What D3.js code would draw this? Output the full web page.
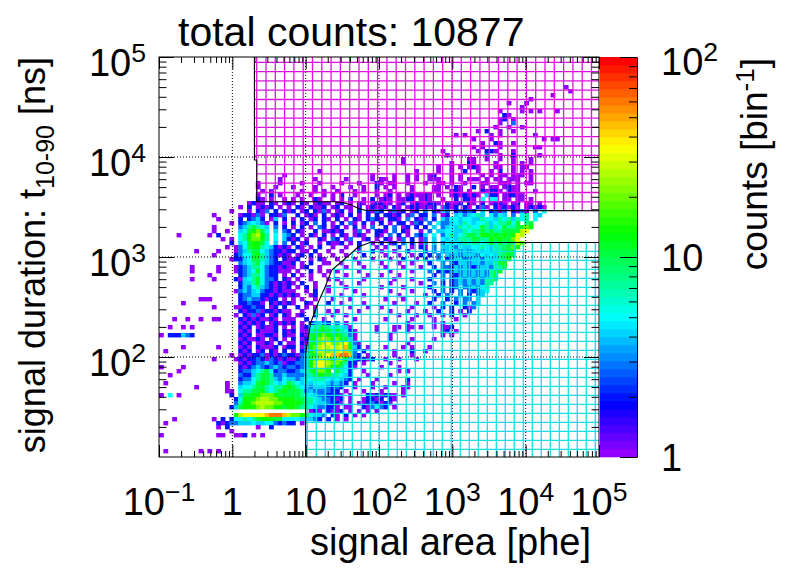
<!DOCTYPE html>
<html><head><meta charset="utf-8">
<script src="https://cdn.jsdelivr.net/npm/d3@7"></script>
<style>body{margin:0;background:#fff}svg{display:block}</style>
</head><body>
<svg id="c" width="796" height="572"></svg>
<script>
// ---------------- data ----------------
const titleText = "total counts: 10877";
const xDomain = [0.1, 1e5];
const yDomain = [10, 1e5];
const zDomain = [1, 100];
const nBinsX = 100, nBinsY = 100;
const xTickValues = [0.1, 1, 10, 100, 1e3, 1e4, 1e5];
const xTickLabels = [["10","\u22121"],["1",""],["10",""],["10","2"],["10","3"],["10","4"],["10","5"]];
const yTickValues = [1e2, 1e3, 1e4, 1e5];
const yTickLabels = [["10","2"],["10","3"],["10","4"],["10","5"]];
const zTickValues = [1, 10, 100];
const zTickLabels = [["1",""],["10",""],["10","2"]];
const gridX = [1, 10, 100, 1e3, 1e4];
const gridY = [1e2, 1e3, 1e4];
// cell codes -> counts per bin
const codeChars  = "123456789abcd";
const codeCounts = [1,2,3,4,5,7,10,14,20,27,35,45,60];
// 100 rows (top = highest duration bin), each split into 10-column blocks by "|"
const rows = [
"","","","","","","",
"|||||||||..1",
"|||||||||...1",
"||||||||.........1",
"||||||||....1",
"|||||||.........1|...1",
"||||||||..1",
"|||||||.......1|..1.1.1|1",
"|||||||........21",
"|||||||.......12|1",
"|||||||.......1|3",
"|||||||......1..1|..1",
"|||||||..1.2..1|1",
"||||||.......1.1|.....1.1|.....1",
"|||||||.1...1|.......1.1|1",
"|||||||...1..21|1",
"|||||||.1.1...1|.....11",
"||||||....1|..1.221|1",
"||||||.....1|....3..1|2.....1",
"|||||.....1||11..1..1|1...1",
"|||||.....1|......1|21....1|1.1.1",
"||||||...1..1.1|121...11|1.11",
"|||......1||........1|...1..1..2|..1..1.2|1.1.1",
"||........1||........1|...1..1.1|.12...1.1|...1.1.11|111.1",
"||.......1|.....1|..1.....1|11.1..1.1|.111..1.1|111.1.11.1|11..1",
"||..1....1|..1...1|.1...1...2|1.11..1|1..11.1..1|...11..111|.1.11",
"||..1...1|1....1...1|...1..1..2|.1.1...1|..11.1.21|.2.1.11.12|11",
"||...1.1|..1..1.1|1...1.1..1|..1....1|..11..121|1..21221.2|11...1",
"||..1..2.1|.1..1..1.1|.2..1....1|.12.1.1211|21.1..1212|121.422.12|211",
"||..21.1..1|1.1..21..1|.1.2..1.2|121.1122.1|21..1..2.2|21.5.55.11|.11.1",
"||1211.21.12|1.21.1211|12.1.21.12|211.12.121|1221.2112|21.2.1221|12.11.1",
"|........1|2.1212.1.1|.21.2112.1|2.11.2.121|12.21.1221|212.3212.2|1.231.2121|21.12121",
"|......1|1.213.2.21|2.12.2131|12.1.2.213|2.1312.12|3.2143.232|32.4.2313|2131.3.5",
"|..1.....12|2131.2213|.2.121.2.1|21.2.1.2.2|.2212.13.2|2.3.12.453|4564.5354|3.56.54",
"|...1....2|2342.14.2|1.2.12.21|2.1.21.232|1.221.3.21|3.2.435545|5446554656|4656.5",
"|......1.23|45431.2.1|2.12.3.2.1|.2.31.2.1|2.1.22.132|.3.5334546|5455645667|57.67",
"|..1.....34|67654.3.2|1.2.1.32.1|2.1.2.1.3|.2.3.12.2|2.4.345465|6557646576|67798",
"|..1..1..45|78975.4.32|.21..2.112|12..13.1.2|21.3.21..1|.3.4455446|5667676677|77ab",
"....1|.1.2....56|89a86.5.43|2.1.21.2.1|.21.121..2|1.3.2.1.32|4.5.356456|7768878787|8ba",
"|....1.1.56|89986.5.42|12.1..21.3|2.13..12.1|.21.13.2.1|3.4.545466|6776687877|9b",
"|......2.45|78875.4.3|2.12..1.21|12.1.2..1|2.12.3.2.1|3.4.354546|5665676767|7a9",
"|.....1.135|7886542121|.21.1.2..1|..1..2...1|.1..2..1.2|1.3.445354|4556546677|98",
"........1|...1...134|6775432212|2.11.2..1|.1...1..2|1..1..2|2.3.345434|3454546677|8",
"|..1....235|5786432121|.12.2.1..1|..1...2|.1..1..1.2|.2.3.43434|4435454677|7",
"|......1224|5776432.21|12..1.21|1...1...1|..1..2..1|2..3.23443|3443544678",
"|........34|5675432211|2.1.2..11|.1...1|1...1..1|.2..3.3244|344344678",
".......1|...1...123|4665322121|1.12..1|..1...1|.1...1...1|..2.332434|323443667",
".......1|...1...123|4575322111|.1..2.1.1|1....1|..1....1|.3.2323434|34343677",
"|.1......23|4665322.1|2.1.1..1|..1....1|1...1|..2.3.3234|3434367",
".......1|..1....214|5675332.21|.1..1...1|1.....1|...1...1|.2..3.2343|4343667",
"|........24|4675321212|1.2..1|.1...1|..1......1|..3.2.2343|434366",
"|........24|3564321212|.1.2.1..1|..1|1....1|.2..3.23.3|34356",
"|.......134|3453221211|1..1.2..1|....1|..1....1|..2.3.2.3|32345",
"|........23|3442212121|21..12|.1....1|....1|1..2.3..3|2.34",
".........1|11......23|4332122.1|1.1..1...1|...1|.1...1|..2..2.3.3|3.4",
".....1|........22|3221.21212|1..21...2|.1....1|...1....1|.2..3..2.3|.34",
"|..1....112|2322.12.2|.2.1.1|...1...1|1......1|..1.2.2..2|13",
"|........21|2231221211|..1..1..1|1....1|..1...1|1..2..2.1|2",
"|.......1.2|1312.12.21|.12..2...1|..1|....1...1|.1..1.2..1",
"...1..1..1|..11....21|2121121.11|1..2...1|....1|.1.....1|..1....1",
"|........12|1212.12121|2.1.23432|3.1|......1|..1.1",
"..1..1.1|........21|2.12112.1|1.12566765|6541.....1|...11.11.1|..1.112",
"|........12|1.21112.21|2.11677876|76521....1|...1..1|....12.1",
"1.222432|........21|2.11221.21|1.21788987|87631|..1|....1.1",
"|........12|1121.12.1|2.12789a98|98741|..1....1|..1",
"|........21|2.1121.2.1|1.21789ab9|9ab731|......1",
".....1|...1....12|1.21112.12|2.1389abab|abc842.1|.1...1.1|.1",
".1|........21|2.12.21.2|1.2389aa9a|abc93.2|...1...2|1",
"|......1.12|1223121232|2134789abc|cddc32.1|...1...1",
"|..1....121|2232132121|123489aa98|9a8432212|.1..1...1",
"|........12|1233432312|23348abba9|98622.1|..1",
"1....1|........21|2343234323|32348abb98|87521|1...1",
"....1|........23|3456752332|234578998|7652..1|....1.1",
"..1|........32|2467763343|3334678876|6542...1|..1",
"|........23|3567764354|4345566654|5432.1...1|......2",
".1|.....1..34|4578765457|6545455543|432.1...1|...1..1",
"........1|.....1..45|5677656678|7654344432|32..1...1|.1...11",
"|.....11.56|6778656787|7763433332|2.1...1|1....1",
"1.5.1|......2.47|7889998777|7765543322|21.1...212|1211.1",
"|.......258|889aa99888|8776654332|12.1..1221|2.21",
"|.......368|89aaaa9988|8876654432|21.1.11232|121",
"|......2478|889a998878|8766543322|1.11..2135|32.1",
"|||....121.21|12.1.1.1.1",
"|.......8ab|bbbbcdddca|99885443.2|1.2.1.1",
"...1|..1.2.2556|5678887755|5544432.2|1.1",
".1|...2123344|4544553232|2.1",
"|...1.2|..1..2",
"|......1",
"1|...11..112|.1.1",
"","","",
".1.......1|.1.1",
""
];
// selection cut boundaries [signal area (phe), duration (ns)]
const magentaCut = [[2.0,1e5],[2.0,9333],[2.15,9333],[2.15,3573],[25.1,3573],[33.0,3490],[41.5,3310],[53.0,3050],[66.0,2920],[1e5,2904],[1e5,1e5]];
const cyanCut = [[10,10],[10,109.6],[11.7,219],[14.7,347],[18.4,501],[22.7,741],[29.4,871],[42.4,1096],[51.8,1259],[75.4,1396],[1e5,1396],[1e5,10]];

// ---------------- drawing ----------------
const FONT = "'Liberation Sans', Arial, Helvetica, sans-serif";
const L = 159, R = 599, T = 57, B = 457;
const svg = d3.select("#c").style("font-family", FONT);
const x = d3.scaleLog().domain(xDomain).range([L, R]);
const y = d3.scaleLog().domain(yDomain).range([B, T]);
const zs = d3.scaleLog().domain(zDomain).range([B, T]);
const nColors = 50;
const palette = d3.range(nColors).map(k => d3.hsl(280 - (k + 1) * 280 / nColors, 1, 0.5).formatHex());
const colorOf = c => {
  let k = Math.floor(Math.log10(c / zDomain[0]) / Math.log10(zDomain[1] / zDomain[0]) * nColors);
  return palette[Math.max(0, Math.min(nColors - 1, k))];
};
const lx0 = Math.log10(xDomain[0]), lx1 = Math.log10(xDomain[1]);
const ly0 = Math.log10(yDomain[0]), ly1 = Math.log10(yDomain[1]);
const xEdges = d3.range(nBinsX + 1).map(i => Math.pow(10, lx0 + i * (lx1 - lx0) / nBinsX));
const yEdges = d3.range(nBinsY + 1).map(j => Math.pow(10, ly0 + j * (ly1 - ly0) / nBinsY));

const cells = [];
rows.forEach((row, r) => {
  const s = (row.split("|").map(b => (b + "..........").slice(0, 10)).join("") + ".".repeat(100)).slice(0, nBinsX);
  for (let i = 0; i < nBinsX; i++) {
    const k = codeChars.indexOf(s[i]);
    if (k >= 0) cells.push({ i, j: nBinsY - 1 - r, count: codeCounts[k] });
  }
});

svg.append("rect").attr("width", 796).attr("height", 572).attr("fill", "#fff");

// histogram cells
svg.append("g").selectAll("rect").data(cells).join("rect")
  .attr("x", d => x(xEdges[d.i]))
  .attr("y", d => y(yEdges[d.j + 1]))
  .attr("width", d => x(xEdges[d.i + 1]) - x(xEdges[d.i]) + 0.4)
  .attr("height", d => y(yEdges[d.j]) - y(yEdges[d.j + 1]) + 0.4)
  .attr("fill", d => colorOf(d.count));

// dotted grid
const grid = svg.append("g").attr("stroke", "#000").attr("stroke-width", 1).attr("stroke-dasharray", "1,2");
gridX.forEach(v => grid.append("line").attr("x1", x(v)).attr("x2", x(v)).attr("y1", T).attr("y2", B));
gridY.forEach(v => grid.append("line").attr("x1", L).attr("x2", R).attr("y1", y(v)).attr("y2", y(v)));

// hatched cut regions
const line = d3.line().x(d => x(d[0])).y(d => y(d[1]));
const defs = svg.append("defs");
defs.append("clipPath").attr("id", "clipM").append("path").attr("d", line(magentaCut) + "Z");
defs.append("clipPath").attr("id", "clipC").append("path").attr("d", line(cyanCut) + "Z");
function hatch(clipId, color, x0, y0, step) {
  const g = svg.append("g").attr("clip-path", `url(#${clipId})`).attr("stroke", color).attr("stroke-width", 1.3);
  for (let xx = x0 - Math.ceil((x0 - L) / step) * step; xx <= R; xx += step)
    g.append("line").attr("x1", xx).attr("x2", xx).attr("y1", T).attr("y2", B);
  for (let yy = y0 - Math.ceil((y0 - T) / step) * step; yy <= B; yy += step)
    g.append("line").attr("x1", L).attr("x2", R).attr("y1", yy).attr("y2", yy);
}
hatch("clipM", "#e010e0", 256.7, 62.3, 9.3);
hatch("clipC", "#10e0ea", 307.3, 332.3, 9.0);

// cut outlines
svg.append("path").attr("d", line(magentaCut.slice(0, 10))).attr("fill", "none").attr("stroke", "#000").attr("stroke-width", 1.1);
svg.append("path").attr("d", line(cyanCut.slice(0, 11))).attr("fill", "none").attr("stroke", "#000").attr("stroke-width", 1.1);

// frame
svg.append("rect").attr("x", L).attr("y", T).attr("width", R - L).attr("height", B - T)
  .attr("fill", "none").attr("stroke", "#000").attr("stroke-width", 1);

// ticks
const minorOf = (lo, hi) => { const a = []; for (let d = lo; d < hi * 0.999; d *= 10) for (let k = 2; k <= 9; k++) a.push(d * k); return a; };
const xMinor = minorOf(xDomain[0], xDomain[1]);
const yMinor = minorOf(yDomain[0], yDomain[1]);
const zMinor = minorOf(zDomain[0], zDomain[1]);
function tickAxis(axis, tx, ty) {
  svg.append("g").attr("transform", `translate(${tx},${ty})`).call(axis)
    .call(g => g.select(".domain").remove())
    .call(g => g.selectAll("line").attr("stroke", "#000").attr("stroke-width", 1));
}
tickAxis(d3.axisBottom(x).tickValues(xTickValues).tickSize(-12).tickFormat(""), 0, B);
tickAxis(d3.axisBottom(x).tickValues(xMinor).tickSize(-6).tickFormat(""), 0, B);
tickAxis(d3.axisTop(x).tickValues(xTickValues).tickSize(-12).tickFormat(""), 0, T);
tickAxis(d3.axisTop(x).tickValues(xMinor).tickSize(-6).tickFormat(""), 0, T);
tickAxis(d3.axisLeft(y).tickValues(yTickValues).tickSize(-15).tickFormat(""), L, 0);
tickAxis(d3.axisLeft(y).tickValues(yMinor).tickSize(-7.5).tickFormat(""), L, 0);
tickAxis(d3.axisRight(y).tickValues(yTickValues).tickSize(-15).tickFormat(""), R, 0);
tickAxis(d3.axisRight(y).tickValues(yMinor).tickSize(-7.5).tickFormat(""), R, 0);

// labels with superscripts
function label(xp, yp, parts, anchor, size) {
  const t = svg.append("text").attr("x", xp).attr("y", yp).attr("text-anchor", anchor)
    .attr("font-size", size).attr("fill", "#000");
  t.append("tspan").text(parts[0]);
  if (parts[1]) t.append("tspan").attr("dy", -size * 0.36).attr("font-size", size * 0.7).text(parts[1]);
  return t;
}
xTickValues.forEach((v, i) => label(x(v), 515, xTickLabels[i], "middle", 38));
yTickValues.forEach((v, i) => label(146, y(v) + 19, yTickLabels[i], "end", 38));

// color bar
const cb = svg.append("g");
d3.range(nColors).forEach(k => {
  const z0 = Math.pow(10, k * 2 / nColors), z1 = Math.pow(10, (k + 1) * 2 / nColors);
  cb.append("rect").attr("x", 600).attr("y", zs(z1)).attr("width", 37)
    .attr("height", zs(z0) - zs(z1) + 0.3).attr("fill", palette[k]);
});
svg.append("g").attr("transform", "translate(637,0)")
  .call(d3.axisLeft(zs).tickValues(zTickValues).tickSize(17).tickSizeOuter(0).tickFormat(""))
  .call(g => g.selectAll("line,path").attr("stroke", "#000").attr("stroke-width", 1));
tickAxis(d3.axisLeft(zs).tickValues(zMinor).tickSize(8).tickFormat(""), 637, 0);
zTickValues.forEach((v, i) => label(661, zs(v) + (zTickLabels[i][1] ? 18 : 14), zTickLabels[i], "start", 38));

// titles
svg.append("text").attr("x", 178).attr("y", 46).attr("font-size", 41).text(titleText);
svg.append("text").attr("x", 591).attr("y", 555).attr("text-anchor", "end").attr("font-size", 38).text("signal area [phe]");
const yt = svg.append("text").attr("transform", "translate(45,57) rotate(-90)").attr("text-anchor", "end").attr("font-size", 36);
yt.append("tspan").text("signal duration: t");
yt.append("tspan").attr("dy", 9).attr("font-size", 25).text("10-90");
yt.append("tspan").attr("dy", -9).text(" [ns]");
const zt = svg.append("text").attr("transform", "translate(767,58) rotate(-90)").attr("text-anchor", "end").attr("font-size", 37);
zt.append("tspan").text("counts [bin");
zt.append("tspan").attr("dy", -13).attr("font-size", 26).text("-1");
zt.append("tspan").attr("dy", 13).text("]");
</script>
</body></html>
